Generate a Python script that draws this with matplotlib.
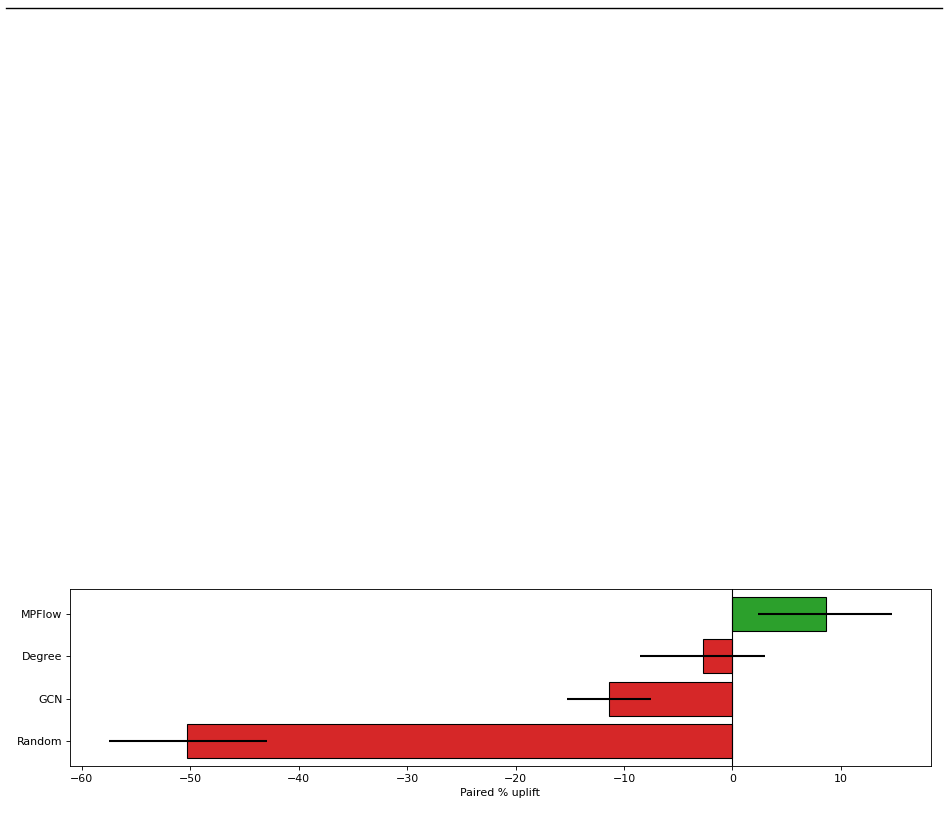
import matplotlib
matplotlib.use("Agg")
import matplotlib.pyplot as plt
from matplotlib.lines import Line2D

categories = ["Random", "GCN", "Degree", "MPFlow"]
uplift = [-50.3, -11.4, -2.7, 8.6]
ci_low = [-57.5, -15.3, -8.5, 2.4]
ci_high = [-42.9, -7.5, 3.0, 14.7]
colors = ["#d62728" if v < 0 else "#2ca02c" for v in uplift]

s = 0.79
plt.rcParams.update({
    "font.size": 10 * s,
    "axes.linewidth": 0.8 * s,
    "xtick.major.size": 3.5 * s,
    "ytick.major.size": 3.5 * s,
    "xtick.major.width": 0.8 * s,
    "ytick.major.width": 0.8 * s,
    "xtick.major.pad": 3.5 * s,
    "ytick.major.pad": 3.5 * s,
    "axes.labelpad": 4.0 * s,
})

fig = plt.figure(figsize=(9.48, 8.35), dpi=100)
ax = fig.add_axes([0.0738, 0.0826, 0.982 - 0.0738, 0.2946 - 0.0826])

ypos = list(range(len(categories)))
ax.barh(ypos, uplift, color=colors, edgecolor="black", linewidth=1.0 * s, height=0.8)
ax.hlines(ypos, ci_low, ci_high, color="black", linewidth=1.5)
ax.axvline(0, color="black", linewidth=1.0 * s)
ax.set_yticks(ypos)
ax.set_yticklabels(categories)
ax.set_xlabel("Paired % uplift")

fig.add_artist(Line2D([6 / 948, 942 / 948], [1 - 7.5 / 835, 1 - 7.5 / 835],
                      color="black", linewidth=1.0, transform=fig.transFigure))

fig.savefig("out.png", dpi=100)
